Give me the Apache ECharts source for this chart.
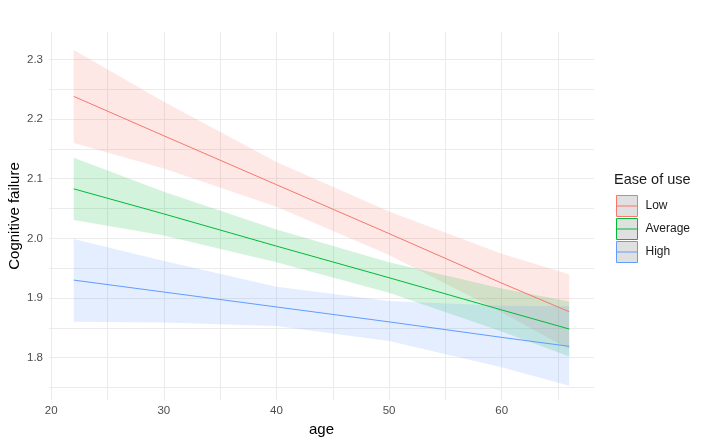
<!DOCTYPE html>
<html>
<head>
<meta charset="utf-8">
<script src="https://cdn.jsdelivr.net/npm/echarts@6/dist/echarts.min.js"></script>
<style>
  html, body { margin: 0; padding: 0; background: #fff; }
  #chart { width: 708px; height: 447px; }
</style>
</head>
<body>
<div id="chart"></div>
<script>
const ages = [22, 30, 40, 50, 60, 66]

// Low ease of use
const lowFit = [2.238, 2.172, 2.090, 2.008, 1.925, 1.877]
const lowUpper = [2.316, 2.229, 2.128, 2.045, 1.974, 1.940]
const lowLower = [2.160, 2.117, 2.053, 1.972, 1.876, 1.814]

// Average ease of use
const avgFit = [2.083, 2.041, 1.987, 1.934, 1.880, 1.848]
const avgUpper = [2.135, 2.078, 2.015, 1.960, 1.916, 1.894]
const avgLower = [2.031, 2.005, 1.960, 1.909, 1.844, 1.802]

// High ease of use
const highFit = [1.930, 1.910, 1.885, 1.860, 1.834, 1.819]
const highUpper = [1.999, 1.962, 1.919, 1.895, 1.887, 1.886]
const highLower = [1.860, 1.859, 1.853, 1.828, 1.784, 1.753]

const groupNames = ['Low', 'Average', 'High']
const xTicks = [20, 25, 30, 35, 40, 45, 50, 55, 60, 65]
const xLabels = [20, 30, 40, 50, 60]
const yTicks = [1.75, 1.8, 1.85, 1.9, 1.95, 2.0, 2.05, 2.1, 2.15, 2.2, 2.25, 2.3]
const yLabels = [1.8, 1.9, 2.0, 2.1, 2.2, 2.3]

const colors = ['#F8766D', '#00BA38', '#619CFF']
const font = 'Liberation Sans, Arial, sans-serif'

function bandSeries(name, lower, upper, color) {
  return {
    name: name + ' band',
    type: 'custom',
    silent: true,
    z: 1,
    data: ages.map((a, i) => [a, lower[i], upper[i]]),
    encode: { x: 0, y: [1, 2] },
    renderItem: function(params, api) {
      if (params.dataIndex !== 0) return null
      const pts = []
      for (let i = 0; i < ages.length; i++) pts.push(api.coord([ages[i], upper[i]]))
      for (let i = ages.length - 1; i >= 0; i--) pts.push(api.coord([ages[i], lower[i]]))
      return {
        type: 'polygon',
        shape: { points: pts },
        style: { fill: color, opacity: 0.17 }
      }
    }
  }
}

function fitSeries(name, fit, color) {
  return {
    name: name,
    type: 'line',
    z: 3,
    showSymbol: false,
    symbol: 'none',
    color: color,
    lineStyle: { width: 1, color: color },
    data: ages.map((a, i) => [a, fit[i]])
  }
}

const chart = echarts.init(document.getElementById('chart'))
chart.setOption({
  animation: false,
  backgroundColor: '#fff',
  grid: { left: 49, right: 114, top: 32, bottom: 47, containLabel: false, outerBoundsMode: 'none' },
  title: {
    text: 'Ease of use',
    left: 614,
    top: 172,
    padding: 0,
    textStyle: { fontFamily: font, fontSize: 14.5, fontWeight: 'normal', color: '#1a1a1a' }
  },
  legend: {
    orient: 'vertical',
    left: 616,
    top: 195,
    padding: 0,
    itemWidth: 21,
    itemHeight: 21,
    itemGap: 1,
    icon: 'path://M0,0H20V20H0Z M0,10H20',
    textStyle: { fontFamily: font, fontSize: 12, color: '#1a1a1a', padding: [0, 0, 0, 3] },
    data: groupNames.map((n, i) => ({
      name: n,
      itemStyle: { color: '#e0e0e0', borderColor: colors[i], borderWidth: 1 }
    }))
  },
  xAxis: {
    type: 'value',
    min: 19.8,
    max: 68.2,
    name: 'age',
    nameLocation: 'middle',
    nameGap: 22,
    nameMoveOverlap: false,
    nameTextStyle: { fontFamily: font, fontSize: 15, color: '#000' },
    axisLine: { show: false },
    axisTick: { show: false, customValues: xTicks },
    axisLabel: {
      customValues: xLabels,
      margin: 5,
      fontFamily: font,
      fontSize: 11.5,
      color: '#4d4d4d'
    },
    splitLine: { show: true, lineStyle: { color: '#ebebeb', width: 1 } }
  },
  yAxis: {
    type: 'value',
    min: 1.729,
    max: 2.346,
    name: 'Cognitive failure',
    nameLocation: 'middle',
    nameGap: 27,
    nameMoveOverlap: false,
    nameTextStyle: { fontFamily: font, fontSize: 15, color: '#000' },
    axisLine: { show: false },
    axisTick: { show: false, customValues: yTicks },
    axisLabel: {
      customValues: yLabels,
      margin: 6,
      fontFamily: font,
      fontSize: 11.5,
      color: '#4d4d4d',
      formatter: v => v.toFixed(1)
    },
    splitLine: { show: true, lineStyle: { color: '#ebebeb', width: 1 } }
  },
  series: [
    bandSeries('Low', lowLower, lowUpper, colors[0]),
    bandSeries('Average', avgLower, avgUpper, colors[1]),
    bandSeries('High', highLower, highUpper, colors[2]),
    fitSeries('Low', lowFit, colors[0]),
    fitSeries('Average', avgFit, colors[1]),
    fitSeries('High', highFit, colors[2])
  ]
})
</script>
</body>
</html>
